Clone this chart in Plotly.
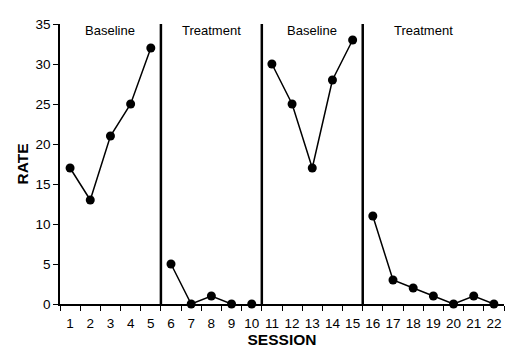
import plotly.graph_objects as go

sessions = list(range(1, 23))
rate = [17, 13, 21, 25, 32, 5, 0, 1, 0, 0, 30, 25, 17, 28, 33, 11, 3, 2, 1, 0, 1, 0]
# connected runs of sessions (start, end inclusive)
segments = [(1, 5), (6, 9), (10, 10), (11, 15), (16, 22)]
phase_names = ["Baseline", "Treatment", "Baseline", "Treatment"]
phase_label_x = [3, 8, 13, 18.5]
phase_changes = [5.5, 10.5, 15.5]
y_ticks = [0, 5, 10, 15, 20, 25, 30, 35]

fig = go.Figure()
for s, e in segments:
    xs = sessions[s - 1:e]
    ys = rate[s - 1:e]
    fig.add_trace(go.Scatter(
        x=xs, y=ys, mode="lines+markers",
        line=dict(color="black", width=1.5),
        marker=dict(color="black", size=9),
        showlegend=False, cliponaxis=False))

for xc in phase_changes:
    fig.add_shape(type="line", x0=xc, x1=xc, y0=0, y1=35, xref="x", yref="y",
                  line=dict(color="black", width=2.5))

for name, xl in zip(phase_names, phase_label_x):
    fig.add_annotation(x=xl, y=35, xref="x", yref="y", text=name, showarrow=False,
                       yanchor="top", yshift=3,
                       font=dict(family="Liberation Sans, Arial", size=13, color="black"))

fig.update_layout(
    width=517, height=348,
    margin=dict(l=52, r=21, t=16, b=52),
    plot_bgcolor="white", paper_bgcolor="white",
    font=dict(family="Liberation Sans, Arial", size=13.5, color="black"),
)
fig.update_xaxes(
    range=[0.5, 22.5], tickmode="array", tickvals=sessions,
    ticktext=[str(s) for s in sessions],
    ticks="outside", ticklen=0, tickcolor="white",
    ticklabelstandoff=6, automargin=False,
    minor=dict(tickmode="array", tickvals=[s + 0.5 for s in range(0, 23)],
               ticks="outside", ticklen=5, tickcolor="black", tickwidth=1.2),
    showline=True, linecolor="black", linewidth=1.5, showgrid=False, zeroline=False,
    title=dict(text="<b>SESSION</b>", font=dict(size=15.5), standoff=2),
)
fig.update_yaxes(
    range=[0, 35], tickmode="array", tickvals=y_ticks,
    ticks="outside", ticklen=5, tickcolor="black", tickwidth=1.2,
    automargin=False,
    showline=True, linecolor="black", linewidth=1.5, showgrid=False, zeroline=False,
    title=dict(text="<b>RATE</b>", font=dict(size=15.5), standoff=3),
)
fig.write_html("out.html")
